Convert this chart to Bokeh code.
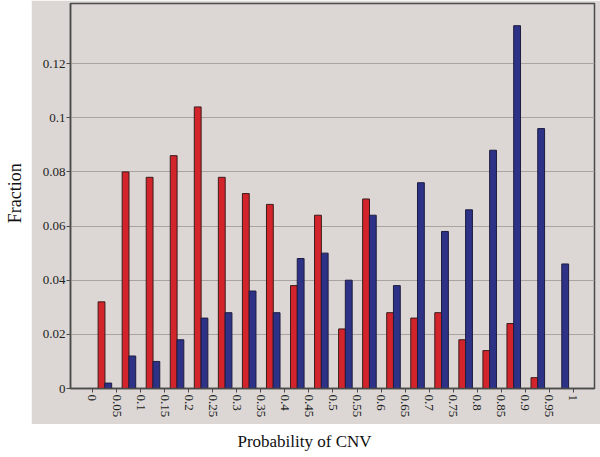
import math
from bokeh.plotting import figure
from bokeh.models import Range1d, FixedTicker, Label, ColumnDataSource
from bokeh.layouts import column, row
from bokeh.transform import dodge
from bokeh.embed import file_html
from bokeh.resources import INLINE

# ---- data ----
bin_left = [0.00, 0.05, 0.10, 0.15, 0.20, 0.25, 0.30, 0.35, 0.40, 0.45,
            0.50, 0.55, 0.60, 0.65, 0.70, 0.75, 0.80, 0.85, 0.90, 0.95]
red_vals = [0.032, 0.080, 0.078, 0.086, 0.104, 0.078, 0.072, 0.068, 0.038, 0.064,
            0.022, 0.070, 0.028, 0.026, 0.028, 0.018, 0.014, 0.024, 0.004, 0.000]
blue_vals = [0.002, 0.012, 0.010, 0.018, 0.026, 0.028, 0.036, 0.028, 0.048, 0.050,
             0.040, 0.064, 0.038, 0.076, 0.058, 0.066, 0.088, 0.134, 0.096, 0.046]
x_ticks = [0.0, 0.05, 0.1, 0.15, 0.2, 0.25, 0.3, 0.35, 0.4, 0.45, 0.5,
           0.55, 0.6, 0.65, 0.7, 0.75, 0.8, 0.85, 0.9, 0.95, 1.0]
x_tick_labels = ["0", "0.05", "0.1", "0.15", "0.2", "0.25", "0.3", "0.35", "0.4", "0.45", "0.5",
                 "0.55", "0.6", "0.65", "0.7", "0.75", "0.8", "0.85", "0.9", "0.95", "1"]
y_ticks = [0.0, 0.02, 0.04, 0.06, 0.08, 0.10, 0.12]
y_tick_labels = ["0", "0.02", "0.04", "0.06", "0.08", "0.1", "0.12"]

PANEL = "#dcd7d4"
FONT = "Liberation Serif"

src = ColumnDataSource(dict(x=bin_left, red=red_vals, blue=blue_vals))

p = figure(width=569, height=424, output_backend="svg", toolbar_location=None,
           x_range=Range1d(-0.0457, 1.0437), y_range=Range1d(0, 0.1422),
           min_border_left=39, min_border_right=6, min_border_top=3, min_border_bottom=36)
p.background_fill_color = PANEL
p.border_fill_color = PANEL
p.outline_line_color = "#4a4a4a"
p.outline_line_width = 1.5

bw = 0.0142
p.vbar(x=dodge("x", 0.0188, range=p.x_range), top="red", width=bw, bottom=0, source=src,
       fill_color="#d3242b", line_color="#3a1c1c", line_width=1)
p.vbar(x=dodge("x", 0.0328, range=p.x_range), top="blue", width=bw, bottom=0, source=src,
       fill_color="#2e3287", line_color="#1c1c40", line_width=1)

p.xgrid.visible = False
p.ygrid.grid_line_color = "#aaa39f"
p.ygrid.grid_line_width = 1.2
p.ygrid.ticker = FixedTicker(ticks=y_ticks)

for ax in (p.xaxis, p.yaxis):
    ax.axis_line_color = "#4a4a4a"
    ax.axis_line_width = 1.5
    ax.major_tick_line_color = "#4a4a4a"
    ax.major_tick_out = 4
    ax.major_tick_in = 0
    ax.minor_tick_line_color = None
    ax.major_label_text_font = FONT
    ax.major_label_text_font_size = "13px"
    ax.major_label_text_color = "#222222"

p.xaxis.ticker = FixedTicker(ticks=x_ticks)
p.xaxis.major_label_overrides = {t: s for t, s in zip(x_ticks, x_tick_labels)}
p.xaxis.major_label_orientation = -math.pi / 2
p.xaxis.major_label_standoff = 2
p.yaxis.ticker = FixedTicker(ticks=y_ticks)
p.yaxis.major_label_overrides = {t: s for t, s in zip(y_ticks, y_tick_labels)}
p.yaxis.major_label_standoff = 1

# left strip with the y axis title
left = figure(width=31, height=424, output_backend="svg", toolbar_location=None,
              x_range=Range1d(0, 31), y_range=Range1d(0, 424),
              min_border=0, x_axis_type=None, y_axis_type=None)
left.outline_line_color = None
left.grid.visible = False
left.add_layout(Label(x=14, y=215, text="Fraction", angle=math.pi / 2,
                      text_align="center", text_baseline="alphabetic",
                      text_font=FONT, text_font_size="18px", text_color="#111111"))

# bottom strip with the x axis title
bottom = figure(width=600, height=33, output_backend="svg", toolbar_location=None,
                x_range=Range1d(0, 600), y_range=Range1d(0, 33),
                min_border=0, x_axis_type=None, y_axis_type=None)
bottom.outline_line_color = None
bottom.grid.visible = False
bottom.add_layout(Label(x=304, y=16, text="Probability of CNV",
                        text_align="center", text_baseline="middle",
                        text_font=FONT, text_font_size="17px", text_color="#111111"))

layout = column(row(left, p, spacing=0), bottom, spacing=0)

open("out.html", "w").write(file_html(layout, INLINE))
